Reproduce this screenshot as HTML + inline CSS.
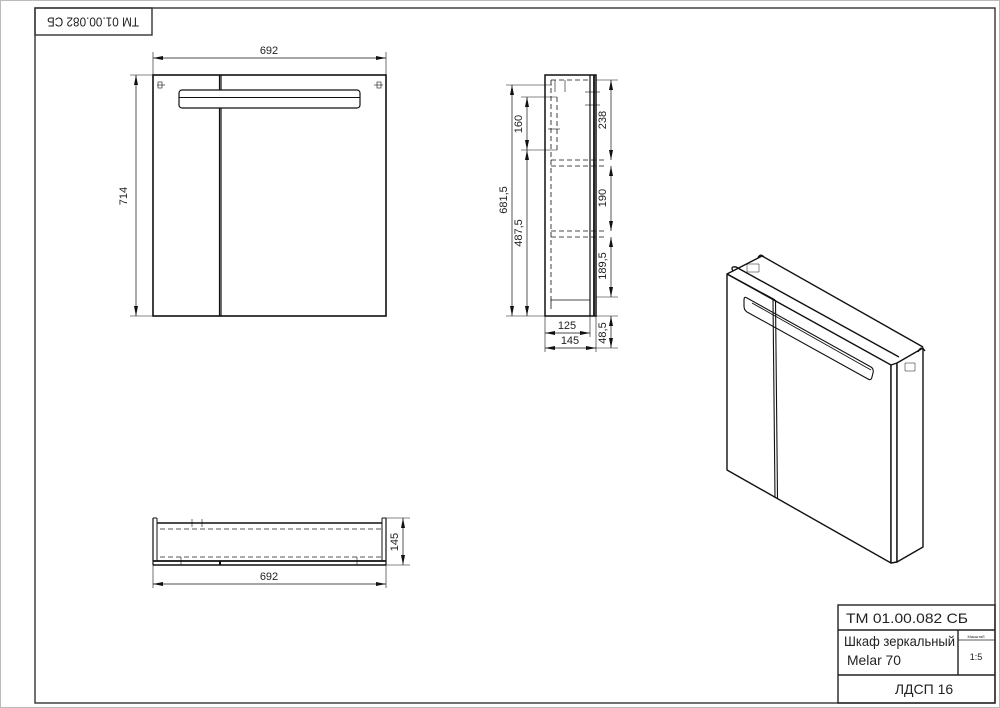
<!DOCTYPE html>
<html><head><meta charset="utf-8"><style>
html,body{margin:0;padding:0;background:#fff;}
svg{display:block;}
text{font-family:"Liberation Sans","DejaVu Sans",sans-serif;fill:#222;}
</style></head><body>
<svg width="1000" height="708" viewBox="0 0 1000 708" xmlns="http://www.w3.org/2000/svg">
<defs>
<marker id="a" viewBox="0 0 10 4" refX="10" refY="2" markerWidth="10" markerHeight="4" markerUnits="userSpaceOnUse" orient="auto-start-reverse"><path d="M0,0 L10,2 L0,4 Z" fill="#111"/></marker>
</defs>
<rect x="0.5" y="0.5" width="999" height="707" fill="#fff" stroke="#bbb"/>
<rect x="35" y="8" width="960" height="695" fill="none" stroke="#333" stroke-width="1.4"/>
<rect x="35" y="8" width="117" height="27" fill="none" stroke="#333" stroke-width="1.4"/>
<text x="93" y="21" font-size="13" text-anchor="middle" dominant-baseline="middle" textLength="92" lengthAdjust="spacingAndGlyphs" transform="rotate(180 93 21)">ТМ 01.00.082 СБ</text>

<g stroke="#111" fill="none">
<rect x="153" y="75" width="233" height="241" stroke-width="1.6"/>
<line x1="219.5" y1="75" x2="219.5" y2="316" stroke-width="1.2"/>
<line x1="221" y1="75" x2="221" y2="316" stroke-width="1.2"/>
<rect x="179" y="90" width="181" height="18" rx="3" fill="#fff" stroke-width="1.2"/>
<line x1="179" y1="97.5" x2="360" y2="97.5" stroke-width="0.9"/>
<g stroke-width="0.6"><rect x="158" y="82" width="4" height="6"/><line x1="157" y1="85" x2="165" y2="85"/><rect x="377" y="82" width="4" height="6"/><line x1="374" y1="85" x2="383" y2="85"/></g>
<g stroke-width="0.6">
<line x1="153" y1="52" x2="153" y2="75"/><line x1="386" y1="52" x2="386" y2="75"/>
<line x1="130" y1="75" x2="153" y2="75"/><line x1="130" y1="316" x2="153" y2="316"/>
</g>

<rect x="545" y="75" width="51" height="241" stroke-width="1.5"/>
<line x1="590" y1="75" x2="590" y2="316" stroke-width="1.2"/>
<line x1="594" y1="75" x2="594" y2="316" stroke-width="1.8"/>
<g stroke-width="0.8" stroke-dasharray="5,3">
<line x1="551" y1="80" x2="551" y2="310"/>
<line x1="551" y1="80" x2="590" y2="80"/>
<line x1="551" y1="160" x2="605" y2="160"/><line x1="551" y1="166" x2="605" y2="166"/>
<line x1="551" y1="231" x2="605" y2="231"/><line x1="551" y1="237" x2="605" y2="237"/>
<line x1="557" y1="97" x2="557" y2="150"/>
</g>
<polyline points="551,304 551,300 590,300" stroke-width="0.8"/>
<g stroke-width="0.6">
<line x1="555" y1="80" x2="555" y2="92"/><line x1="565" y1="80" x2="565" y2="92"/>
<line x1="585" y1="92" x2="600" y2="92"/><line x1="585" y1="105" x2="600" y2="105"/>
<line x1="548" y1="129" x2="560" y2="129"/>
<line x1="506" y1="85" x2="552" y2="85"/><line x1="506" y1="316" x2="545" y2="316"/>
<line x1="521" y1="97" x2="557" y2="97"/><line x1="521" y1="150" x2="557" y2="150"/>
<line x1="596" y1="80" x2="618" y2="80"/>
<line x1="596" y1="297" x2="618" y2="297"/><line x1="596" y1="316" x2="618" y2="316"/><line x1="596" y1="348" x2="618" y2="348"/>
<line x1="545" y1="316" x2="545" y2="352"/><line x1="590" y1="316" x2="590" y2="337"/><line x1="596" y1="316" x2="596" y2="352"/>
</g>

<line x1="153" y1="518" x2="153" y2="565" stroke-width="1.2"/><line x1="386" y1="518" x2="386" y2="565" stroke-width="1.2"/>
<line x1="157" y1="518" x2="157" y2="561" stroke-width="1"/><line x1="382" y1="518" x2="382" y2="561" stroke-width="1"/>
<line x1="153" y1="518" x2="157" y2="518"/><line x1="382" y1="518" x2="386" y2="518"/>
<line x1="157" y1="523" x2="382" y2="523" stroke-width="1.6"/>
<line x1="160" y1="529" x2="382" y2="529" stroke-width="0.9" stroke-dasharray="5,3" stroke="#555"/>
<line x1="160" y1="557" x2="382" y2="557" stroke-width="0.9" stroke-dasharray="5,3" stroke="#555"/>
<line x1="153" y1="561" x2="386" y2="561" stroke-width="1.8"/>
<line x1="153" y1="565" x2="386" y2="565" stroke-width="1.4"/>
<g stroke-width="0.6">
<line x1="192" y1="519" x2="192" y2="527"/><line x1="202" y1="519" x2="202" y2="527"/>
<line x1="181" y1="557" x2="181" y2="565"/><line x1="357" y1="557" x2="357" y2="565"/>
<line x1="386" y1="518" x2="410" y2="518"/><line x1="386" y1="565" x2="410" y2="565"/>
<line x1="153" y1="565" x2="153" y2="588"/><line x1="386" y1="565" x2="386" y2="588"/>
</g>
<line x1="220" y1="561" x2="220" y2="565" stroke-width="2"/>

<g stroke-width="0.7" marker-start="url(#a)" marker-end="url(#a)">
<line x1="153" y1="58" x2="386" y2="58"/>
<line x1="136" y1="75" x2="136" y2="316"/>
<line x1="512" y1="85" x2="512" y2="316"/>
<line x1="527" y1="97" x2="527" y2="150"/>
<line x1="527" y1="150" x2="527" y2="316"/>
<line x1="611" y1="80" x2="611" y2="160"/>
<line x1="611" y1="166" x2="611" y2="231"/>
<line x1="611" y1="237" x2="611" y2="297"/>
<line x1="611" y1="316" x2="611" y2="348"/>
<line x1="545" y1="333" x2="590" y2="333"/>
<line x1="545" y1="348" x2="596" y2="348"/>
<line x1="403" y1="518" x2="403" y2="565"/>
<line x1="153" y1="584" x2="386" y2="584"/>
</g>

<g stroke-width="1.4" stroke-linejoin="round">
<polygon points="727,274 891,365 891,563 727,470" fill="#fff"/>
<polygon points="891,365 897,363 897,562 891,563" fill="#fff"/>
<polygon points="897,363 923,348 923,547 897,562" fill="#fff"/>
<polyline points="727,274 762,256 923,347"/>
<path d="M733,271 Q730,266 736,267 L899,357"/>
<path d="M758,258 Q760,253 764,257"/><path d="M918,352 Q921,345 925,351"/>
<line x1="773" y1="300" x2="775" y2="498" stroke-width="1.1"/><line x1="775.5" y1="300" x2="777.5" y2="498" stroke-width="1.1"/>
<polyline points="727,274 775,300"/>
<path d="M747,298 L871,367 Q874,369 873,373 L872,377 Q871,381 868,379 L747,312 Q744,310 744,306 L744,300 Q744,296 747,298 Z" stroke-width="1.1"/>
<line x1="752" y1="303" x2="871" y2="370" stroke-width="0.9"/>
<rect x="747" y="264" width="12" height="8" stroke-width="0.5"/>
<rect x="905" y="363" width="10" height="8" stroke-width="0.5"/>
</g>

<g stroke="#222" stroke-width="1.4">
<rect x="838" y="605" width="157" height="98"/>
<line x1="838" y1="630" x2="995" y2="630"/>
<line x1="838" y1="675" x2="995" y2="675"/>
<line x1="958" y1="630" x2="958" y2="675"/>
<line x1="958" y1="640" x2="995" y2="640" stroke-width="0.8"/>
</g>
</g>

<g font-size="11">
<text x="269" y="54" text-anchor="middle">692</text>
<text x="127" y="196" text-anchor="middle" transform="rotate(-90 127 196)">714</text>
<text x="507" y="200" text-anchor="middle" transform="rotate(-90 507 200)">681,5</text>
<text x="522" y="233" text-anchor="middle" transform="rotate(-90 522 233)">487,5</text>
<text x="522" y="124" text-anchor="middle" transform="rotate(-90 522 124)">160</text>
<text x="606" y="120" text-anchor="middle" transform="rotate(-90 606 120)">238</text>
<text x="606" y="198" text-anchor="middle" transform="rotate(-90 606 198)">190</text>
<text x="606" y="266" text-anchor="middle" transform="rotate(-90 606 266)">189,5</text>
<text x="606" y="333" text-anchor="middle" transform="rotate(-90 606 333)">48,5</text>
<text x="567" y="329" text-anchor="middle">125</text>
<text x="570" y="344" text-anchor="middle">145</text>
<text x="398" y="542" text-anchor="middle" transform="rotate(-90 398 542)">145</text>
<text x="269" y="580" text-anchor="middle">692</text>
</g>
<text x="846" y="623" font-size="14" textLength="122" lengthAdjust="spacingAndGlyphs">ТМ 01.00.082 СБ</text>
<text x="844" y="646" font-size="14" textLength="111" lengthAdjust="spacingAndGlyphs">Шкаф зеркальный</text>
<text x="847" y="665" font-size="14" textLength="54" lengthAdjust="spacingAndGlyphs">Melar 70</text>
<text x="976" y="638" font-size="4" text-anchor="middle">Масштаб</text>
<text x="976" y="660" font-size="9" text-anchor="middle">1:5</text>
<text x="924" y="694" font-size="14" text-anchor="middle">ЛДСП 16</text>
</svg>
</body></html>
